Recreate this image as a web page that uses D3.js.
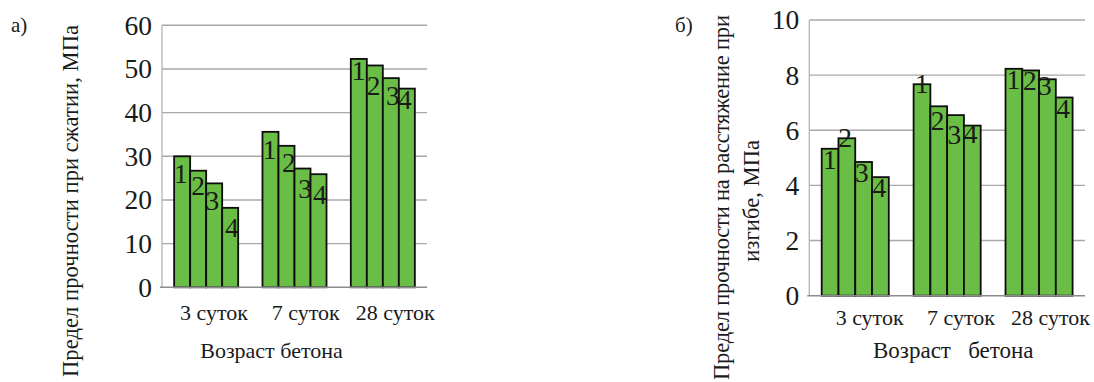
<!DOCTYPE html>
<html>
<head>
<meta charset="utf-8">
<script src="https://cdn.jsdelivr.net/npm/d3@7/dist/d3.min.js"></script>
<style>
  html, body { margin: 0; padding: 0; background: #fff; }
  svg { display: block; }
</style>
</head>
<body>
<svg id="chart" width="1094" height="382"></svg>
<script>
// Concrete age groups and mix numbers
const categories = ["3 суток", "7 суток", "28 суток"];
const mixes = ["1", "2", "3", "4"];

// Compressive strength, MPa (one array per age, values for mix 1..4)
const compressive3 = [30.0, 26.7, 23.8, 18.2];
const compressive7 = [35.6, 32.4, 27.2, 25.9];
const compressive28 = [52.3, 50.8, 47.9, 45.5];

// Flexural tensile strength, MPa
const flexural3 = [5.33, 5.71, 4.85, 4.30];
const flexural7 = [7.67, 6.87, 6.55, 6.17];
const flexural28 = [8.23, 8.17, 7.85, 7.19];

const ticksA = [0, 10, 20, 30, 40, 50, 60];
const ticksB = [0, 2, 4, 6, 8, 10];

// Hand placement of the mix numbers inside the bars (px, relative to bar top / bar centre)
const labelNudgeA = {
  dy: [[8.3, 6, 8.4, 10.6], [8.3, 7.3, 11.3, 10.7], [2.7, 11, 8.4, 1.3]],
  dx: [[-1.2, -0.1, -1.7, 1.7], [-0.8, 2.3, 2.7, 1.3], [-0.2, -1.3, 2, -2]]
};
const labelNudgeB = {
  dy: [[1.3, -10, 1.3, 1.3], [-10, 5.3, 10, -0.7], [1.3, 1.3, -2.7, 2]],
  dx: [[-0.3, -1.8, -1.7, -1], [-0.2, -1.1, -1.2, -1.7], [-0.4, -0.9, -2.6, -1]]
};

const FONT = "Liberation Serif";

const svg = d3.select("#chart");

function txt(sel) {
  return sel.attr("font-family", FONT).attr("fill", "#1a1a1a");
}

// Shift start-anchored text so its measured width is centred on / ends at its x
function align(sel, how) {
  sel.each(function () {
    const w = this.getComputedTextLength();
    const x0 = +this.getAttribute("x");
    this.setAttribute("x", how === "middle" ? x0 - w / 2 : x0 - w);
  });
  return sel;
}

function drawPanel(cfg) {
  const g = svg.append("g");
  const y = d3.scaleLinear().domain(cfg.domain).range([cfg.y0, cfg.y1]);
  const x = d3.scaleBand().domain(categories).range([cfg.x0, cfg.x1])
    .paddingInner(cfg.pad).paddingOuter(cfg.pad / 2);
  const xs = d3.scaleBand().domain(mixes).range([0, x.bandwidth()]);

  // horizontal gridlines
  g.append("g").selectAll("line").data(cfg.ticks.filter(t => t > 0)).join("line")
    .attr("x1", cfg.x0).attr("x2", cfg.x1)
    .attr("y1", d => y(d)).attr("y2", d => y(d))
    .attr("stroke", "#a8a8a8").attr("stroke-width", 1.4);

  // vertical axis line
  g.append("line")
    .attr("x1", cfg.x0).attr("x2", cfg.x0)
    .attr("y1", y(cfg.domain[1])).attr("y2", y(0))
    .attr("stroke", "#b4b4b4").attr("stroke-width", 1.3);

  // tick labels
  align(txt(g.append("g").selectAll("text").data(cfg.ticks).join("text"))
    .attr("x", cfg.x0 - 10).attr("y", d => y(d) + 9.4)
    .attr("font-size", 27.5)
    .text(d => d), "end");

  // bars
  const rows = cfg.values.map((vals, i) => vals.map((v, j) => ({ mix: mixes[j], v, i, j })));
  const groups = g.append("g").selectAll("g").data(rows).join("g")
    .attr("transform", (d, i) => `translate(${x(categories[i])},0)`);

  groups.selectAll("rect").data(d => d).join("rect")
    .attr("x", d => xs(d.mix))
    .attr("width", xs.bandwidth())
    .attr("y", d => y(d.v))
    .attr("height", d => y(0) - y(d.v))
    .attr("fill", "#6abd45")
    .attr("stroke", "#0d0d0d")
    .attr("stroke-width", 1.8);

  align(txt(groups.selectAll("text").data(d => d).join("text"))
    .attr("x", d => xs(d.mix) + xs.bandwidth() / 2 + cfg.nudge.dx[d.i][d.j])
    .attr("y", d => y(d.v) + cfg.nudge.dy[d.i][d.j] + 18.6)
    .attr("font-size", 27.5)
    .text(d => d.mix), "middle");

  // baseline
  g.append("line")
    .attr("x1", cfg.x0 - 2).attr("x2", cfg.x1)
    .attr("y1", y(0)).attr("y2", y(0))
    .attr("stroke", "#8c8c8c").attr("stroke-width", 1.6);

  // category labels
  align(txt(g.append("g").selectAll("text").data(categories).join("text"))
    .attr("x", (d, i) => x(d) + x.bandwidth() / 2 + cfg.catDx[i])
    .attr("y", cfg.catY)
    .attr("font-size", 22)
    .text(d => d), "middle");

  // x title
  align(txt(g.append("text"))
    .attr("x", cfg.xTitleX).attr("y", 358.3)
    .attr("xml:space", "preserve")
    .style("white-space", "pre")
    .attr("font-size", cfg.xTitleSize)
    .text(cfg.xTitle), "middle");

  // y title (one or more lines)
  cfg.yTitle.forEach(line => {
    txt(g.append("text"))
      .attr("transform", `translate(${line.x},${line.cy}) rotate(-90)`)
      .attr("x", -line.len / 2).attr("y", 0)
      .attr("textLength", line.len)
      .attr("lengthAdjust", "spacing")
      .attr("font-size", 22.5)
      .text(line.text);
  });

  // panel letter
  txt(g.append("text"))
    .attr("x", cfg.letterX).attr("y", 31.5)
    .attr("font-size", 21)
    .text(cfg.letter);
}

drawPanel({
  domain: [0, 60], ticks: ticksA,
  y0: 287.3, y1: 25.3, x0: 162, x1: 427, pad: 0.275,
  values: [compressive3, compressive7, compressive28],
  nudge: labelNudgeA,
  catDx: [7.8, 11.2, 12.4], catY: 320,
  xTitle: "Возраст бетона", xTitleX: 271.5, xTitleSize: 22,
  yTitle: [{ text: "Предел прочности при сжатии, МПа", x: 78, cy: 201, len: 352 }],
  letter: "а)", letterX: 11
});

drawPanel({
  domain: [0, 10], ticks: ticksB,
  y0: 295.7, y1: 20, x0: 809.3, x1: 1085, pad: 0.27,
  values: [flexural3, flexural7, flexural28],
  nudge: labelNudgeB,
  catDx: [14.4, 13.8, 11.4], catY: 324.5,
  xTitle: "Возраст   бетона", xTitleX: 953.3, xTitleSize: 23,
  yTitle: [
    { text: "Предел прочности на расстяжение при", x: 728.5, cy: 197.5, len: 365 },
    { text: "изгибе, МПа", x: 759, cy: 200.8, len: 121.7 }
  ],
  letter: "б)", letterX: 675
});
</script>
</body>
</html>
